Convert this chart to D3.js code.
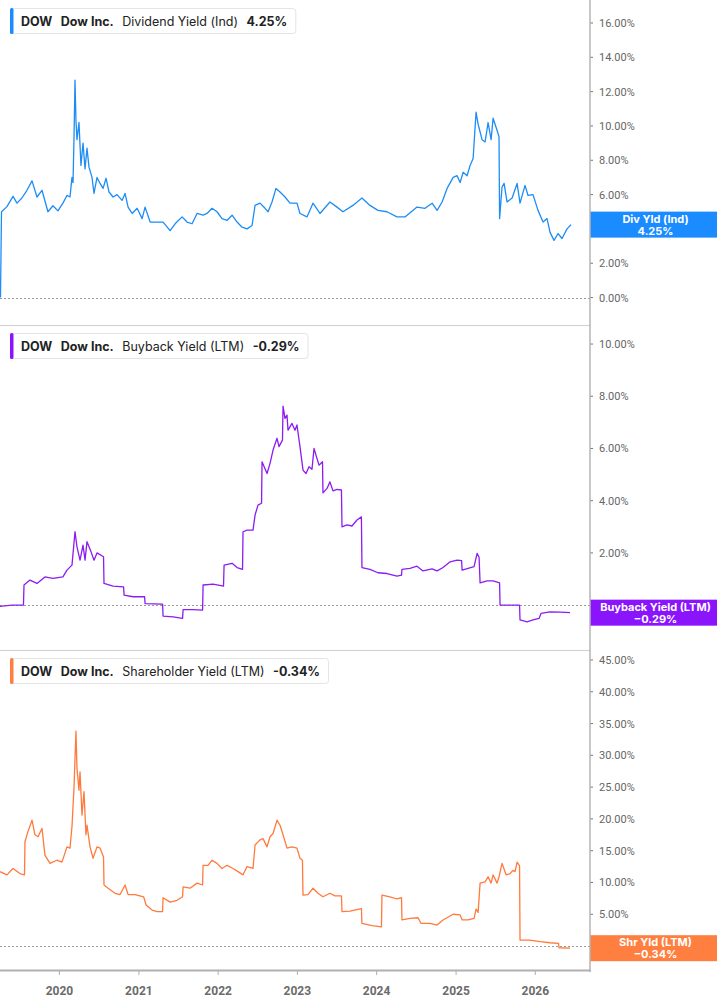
<!DOCTYPE html>
<html>
<head>
<meta charset="utf-8">
<title>DOW yields</title>
<script src="https://cdn.jsdelivr.net/npm/d3@7"></script>
<style>
  body { margin: 0; background: #fff; }
  svg { display: block; font-family: Inter, "Noto Sans", sans-serif; }
  .tick-label { font-family: Roboto, sans-serif; font-size: 11px; fill: #666; }
  .year-label { font-family: Roboto, sans-serif; font-size: 12px; font-weight: 700; fill: #6b6b6b; }
</style>
</head>
<body>
<svg id="chart" width="717" height="1005"></svg>
<script>
// ---- data (time in decimal years, values in %) ----
var divYears = [2019.256,2019.269,2019.338,2019.414,2019.464,2019.527,2019.590,2019.654,2019.717,2019.780,
  2019.855,2019.918,2019.981,2020.044,2020.095,2020.133,2020.158,2020.171,2020.183,2020.196,
  2020.208,2020.221,2020.246,2020.271,2020.297,2020.322,2020.347,2020.372,2020.410,2020.435,
  2020.473,2020.511,2020.549,2020.587,2020.624,2020.675,2020.725,2020.788,2020.826,2020.864,
  2020.915,2020.978,2021.041,2021.078,2021.142,2021.230,2021.305,2021.394,2021.457,2021.545,
  2021.608,2021.671,2021.734,2021.810,2021.860,2021.923,2021.986,2022.049,2022.113,2022.176,
  2022.239,2022.302,2022.365,2022.428,2022.466,2022.529,2022.592,2022.630,2022.680,2022.730,
  2022.781,2022.844,2022.907,2022.995,2023.033,2023.121,2023.197,2023.285,2023.411,2023.500,
  2023.575,2023.701,2023.815,2023.916,2024.017,2024.130,2024.256,2024.357,2024.508,2024.609,
  2024.698,2024.761,2024.824,2024.887,2024.963,2025.013,2025.051,2025.089,2025.139,2025.177,
  2025.215,2025.252,2025.278,2025.328,2025.366,2025.404,2025.442,2025.467,2025.517,2025.542,
  2025.549,2025.580,2025.606,2025.643,2025.707,2025.770,2025.807,2025.870,2025.908,2025.971,
  2026.034,2026.097,2026.148,2026.186,2026.236,2026.287,2026.337,2026.400,2026.451];
var divValues = [0,5.0,5.3,5.9,5.5,5.8,6.25,6.8,5.86,6.25,
  5.0,5.35,5.05,5.5,5.95,5.86,7.0,6.7,9.2,12.67,
  10.3,9.2,10.2,7.7,9.0,7.5,8.7,7.6,7.0,6.07,
  7.0,6.65,6.36,6.95,6.15,5.86,6.0,5.66,6.07,5.27,
  4.9,5.2,4.6,5.27,4.4,4.4,4.4,3.9,4.3,4.7,
  4.4,4.3,4.9,4.8,4.9,5.2,5.0,4.6,4.5,4.8,
  4.4,4.1,4.0,4.2,5.37,5.5,5.2,5.0,5.57,6.36,
  6.15,5.86,5.5,5.5,4.9,4.7,5.5,4.9,5.57,5.27,
  5.0,5.37,5.8,5.37,5.08,5.0,4.7,4.7,5.27,5.2,
  5.5,5.08,5.57,6.36,7.0,7.1,6.7,7.3,7.1,7.7,
  8.1,10.8,10.1,9.2,9.07,10.2,9.2,10.45,9.75,9.36,
  4.6,6.44,6.65,5.57,5.8,6.65,5.5,6.54,5.95,6.0,
  5.08,4.4,4.6,3.8,3.33,3.73,3.44,4.0,4.25];

var bbYears = [2019.250,2019.401,2019.546,2019.553,2019.628,2019.717,2019.817,2019.918,2020.044,2020.095,
  2020.158,2020.196,2020.221,2020.259,2020.297,2020.322,2020.347,2020.398,2020.435,2020.473,
  2020.555,2020.561,2020.675,2020.807,2020.814,2020.927,2021.072,2021.078,2021.299,2021.305,
  2021.432,2021.551,2021.558,2021.684,2021.804,2021.810,2021.936,2022.068,2022.075,2022.176,
  2022.239,2022.308,2022.314,2022.365,2022.440,2022.466,2022.503,2022.548,2022.554,2022.617,
  2022.655,2022.693,2022.743,2022.768,2022.812,2022.819,2022.844,2022.869,2022.882,2022.932,
  2022.970,2022.995,2023.033,2023.071,2023.109,2023.147,2023.184,2023.210,2023.247,2023.273,
  2023.317,2023.323,2023.374,2023.411,2023.449,2023.500,2023.556,2023.563,2023.626,2023.689,
  2023.752,2023.808,2023.815,2023.916,2024.017,2024.130,2024.256,2024.313,2024.319,2024.420,
  2024.508,2024.584,2024.698,2024.761,2024.836,2024.925,2025.013,2025.070,2025.076,2025.152,
  2025.227,2025.265,2025.290,2025.303,2025.391,2025.467,2025.549,2025.555,2025.681,2025.801,
  2025.807,2025.896,2025.971,2026.047,2026.072,2026.186,2026.312,2026.438];
var bbValues = [-0.05,0.0,0.0,0.77,0.96,0.83,1.08,1.02,1.08,1.34,
  1.53,2.81,2.23,1.72,2.30,1.72,2.43,2.04,1.72,2.0,
  1.85,0.83,0.73,0.70,0.38,0.32,0.32,0.06,0.04,-0.42,
  -0.45,-0.51,-0.17,-0.17,-0.19,0.77,0.80,0.73,1.53,1.60,
  1.44,1.37,2.81,2.87,2.87,3.45,3.83,3.90,5.49,5.04,
  5.43,5.94,6.39,6.07,6.32,7.62,7.15,7.28,6.70,6.96,
  6.70,6.90,6.07,5.17,5.04,5.30,5.20,6.00,5.62,5.36,
  5.49,4.30,4.47,4.72,4.38,4.43,4.41,3.00,3.07,3.03,
  3.26,3.38,1.44,1.37,1.24,1.21,1.11,1.15,1.37,1.41,
  1.49,1.31,1.39,1.31,1.44,1.66,1.72,1.70,1.34,1.41,
  1.47,1.98,1.83,0.85,0.93,0.93,0.85,0.0,0.0,0.0,
  -0.57,-0.64,-0.57,-0.51,-0.32,-0.26,-0.27,-0.29];

var shyYears = [2019.250,2019.338,2019.414,2019.502,2019.559,2019.565,2019.603,2019.654,2019.691,2019.729,
  2019.780,2019.817,2019.881,2019.969,2020.032,2020.095,2020.133,2020.158,2020.183,2020.208,
  2020.221,2020.246,2020.259,2020.284,2020.309,2020.334,2020.347,2020.385,2020.423,2020.473,
  2020.511,2020.555,2020.561,2020.612,2020.700,2020.763,2020.826,2020.864,2020.952,2021.060,
  2021.091,2021.167,2021.230,2021.299,2021.305,2021.394,2021.482,2021.551,2021.558,2021.646,
  2021.734,2021.804,2021.810,2021.873,2021.923,2021.986,2022.049,2022.113,2022.188,2022.251,
  2022.314,2022.365,2022.440,2022.466,2022.529,2022.567,2022.617,2022.655,2022.693,2022.743,
  2022.781,2022.819,2022.869,2022.932,2022.995,2023.033,2023.064,2023.071,2023.134,2023.197,
  2023.260,2023.323,2023.411,2023.474,2023.556,2023.563,2023.664,2023.808,2023.815,2023.941,
  2024.061,2024.067,2024.168,2024.256,2024.313,2024.319,2024.420,2024.521,2024.559,2024.672,
  2024.761,2024.836,2024.963,2025.051,2025.076,2025.152,2025.227,2025.252,2025.278,2025.303,
  2025.366,2025.404,2025.442,2025.467,2025.517,2025.542,2025.580,2025.631,2025.681,2025.719,
  2025.744,2025.770,2025.801,2025.807,2025.933,2026.060,2026.186,2026.293,2026.299,2026.438];
var shyValues = [11.7,11.2,12.2,11.4,11.2,16.4,18.0,19.8,17.5,17.2,
  18.5,14.3,13.0,13.5,13.2,15.6,15.4,18.8,24.8,33.8,
  27.9,24.5,27.4,20.6,24.3,17.5,19.0,15.6,13.8,15.6,
  15.4,14.0,9.6,9.1,8.3,8.1,9.6,8.1,8.1,7.75,
  6.45,5.66,5.4,5.4,7.6,6.9,7.2,7.75,9.3,9.1,
  9.9,9.6,12.7,12.7,13.5,13.0,12.2,12.7,12.2,11.7,
  11.2,12.5,12.2,15.9,16.7,16.9,15.6,17.2,17.7,19.8,
  19.0,17.5,15.4,15.6,15.4,13.8,13.5,8.0,8.1,9.1,
  8.3,7.75,8.3,7.9,7.9,5.4,5.5,5.9,3.55,3.2,
  3.0,8.0,7.75,7.4,7.6,4.1,4.35,4.45,3.55,3.55,
  3.3,4.1,5.0,4.9,4.1,4.1,4.35,5.8,5.3,9.9,
  10.1,10.9,9.9,11.2,9.9,10.9,13.0,11.2,11.4,11.9,
  11.7,13.2,12.6,0.94,0.94,0.68,0.52,0.42,-0.27,-0.34];

var yearTicks = [2020, 2021, 2022, 2023, 2024, 2025, 2026];
var divTicks = [0, 2, 4, 6, 8, 10, 12, 14, 16];
var bbTicks = [0, 2, 4, 6, 8, 10];
var shyTicks = [0, 5, 10, 15, 20, 25, 30, 35, 40, 45];

var legendTexts = [
  ["DOW", "Dow Inc.", "Dividend Yield (Ind)", "4.25%"],
  ["DOW", "Dow Inc.", "Buyback Yield (LTM)", "-0.29%"],
  ["DOW", "Dow Inc.", "Shareholder Yield (LTM)", "-0.34%"]
];
var tagNames = ["Div Yld (Ind)", "Buyback Yield (LTM)", "Shr Yld (LTM)"];
var tagValues = [4.25, -0.29, -0.34];

// ---- layout ----
var W = 717, plotW = 590;
var svg = d3.select("#chart");

function toDate(t) {
  var y = Math.floor(t);
  var a = Date.UTC(y, 0, 1), b = Date.UTC(y + 1, 0, 1);
  return new Date(a + (t - y) * (b - a));
}

var x = d3.scaleUtc().domain([toDate(2019.25), toDate(2026.69)]).range([0, plotW]);

var panels = [
  { top: 0,   bottom: 325, dom: [-1.6, 17.34],  years: divYears, values: divValues, ticks: divTicks,
    color: "#1d8df5", tagColor: "#1a8cff", legendY: 8 },
  { top: 325, bottom: 650, dom: [-1.72, 10.73], years: bbYears, values: bbValues, ticks: bbTicks,
    color: "#8b1cf2", tagColor: "#8a14fb", legendY: 333 },
  { top: 650, bottom: 970, dom: [-3.77, 46.57], years: shyYears, values: shyValues, ticks: shyTicks,
    color: "#ff7a3c", tagColor: "#ff7f40", legendY: 658 }
];

panels.forEach(function(p, i) {
  var y = d3.scaleLinear().domain(p.dom).range([p.bottom, p.top]);
  var g = svg.append("g");
  var cy = y(tagValues[i]);

  // separator under the panel
  if (i < 2) {
    g.append("line").attr("x1", 0).attr("x2", plotW)
      .attr("y1", p.bottom + 0.5).attr("y2", p.bottom + 0.5)
      .attr("stroke", "#cfcfcf").attr("stroke-width", 1);
  }

  // zero line, dotted
  g.append("line").attr("x1", 0).attr("x2", plotW)
    .attr("y1", Math.round(y(0)) + 0.5).attr("y2", Math.round(y(0)) + 0.5)
    .attr("stroke", "#9a9a9a").attr("stroke-width", 1).attr("stroke-dasharray", "2,2");

  // right axis ticks + labels (labels hidden under the value tag are skipped)
  var ax = g.append("g");
  ax.selectAll("line").data(p.ticks).enter().append("line")
    .attr("x1", plotW).attr("x2", plotW + 3)
    .attr("y1", function(d) { return y(d); }).attr("y2", function(d) { return y(d); })
    .attr("stroke", "#777").attr("stroke-width", 1);
  ax.selectAll("text").data(p.ticks.filter(function(d) { return Math.abs(y(d) - cy) > 16; }))
    .enter().append("text")
    .attr("class", "tick-label")
    .attr("x", plotW + 9).attr("y", function(d) { return y(d) + 4; })
    .text(function(d) { return d3.format(".2f")(d) + "%"; });

  // the series line
  var pts = p.years.map(function(t, k) { return { t: toDate(t), v: p.values[k] }; });
  var line = d3.line().x(function(d) { return x(d.t); }).y(function(d) { return y(d.v); });
  g.append("path").datum(pts).attr("d", line)
    .attr("fill", "none").attr("stroke", p.color).attr("stroke-width", 1.3)
    .attr("stroke-linejoin", "round");

  // value tag on right axis
  var tag = g.append("g");
  tag.append("rect").attr("x", plotW).attr("y", cy - 13).attr("width", W - plotW).attr("height", 26)
    .attr("fill", p.tagColor);
  tag.append("text").attr("x", (plotW + W) / 2 + 2).attr("y", cy - 2)
    .attr("text-anchor", "middle").attr("fill", "#fff")
    .style("font-size", "11px").style("font-weight", 700).text(tagNames[i]);
  tag.append("text").attr("x", (plotW + W) / 2 + 2).attr("y", cy + 10)
    .attr("text-anchor", "middle").attr("fill", "#fff")
    .style("font-size", "11px").style("font-weight", 700).text(d3.format(".2f")(tagValues[i]) + "%");

  // legend box
  var lg = g.append("g");
  var box = lg.append("rect").attr("x", 10.5).attr("y", p.legendY + 0.5).attr("height", 25)
    .attr("rx", 3).attr("fill", "#fff").attr("stroke", "#e4e4e4");
  lg.append("rect").attr("x", 10).attr("y", p.legendY).attr("width", 3.5).attr("height", 26)
    .attr("rx", 1.5).attr("fill", p.tagColor);
  var tx = 21;
  legendTexts[i].forEach(function(s, k) {
    var t = lg.append("text").attr("x", tx).attr("y", p.legendY + 17.5)
      .attr("fill", "#222").style("font-size", "12.5px")
      .style("font-weight", k === 2 ? 400 : 700).text(s);
    tx += t.node().getComputedTextLength() + 8.5;
  });
  box.attr("width", tx - 10.5);
});

// right vertical axis line
svg.append("line").attr("x1", plotW).attr("x2", plotW).attr("y1", 0).attr("y2", 972)
  .attr("stroke", "#b5b5b5").attr("stroke-width", 1.5);

// bottom time axis
svg.append("line").attr("x1", 0).attr("x2", plotW + 0.75).attr("y1", 970.5).attr("y2", 970.5)
  .attr("stroke", "#b0b0b0").attr("stroke-width", 2);
var xa = svg.append("g");
xa.selectAll("line").data(yearTicks).enter().append("line")
  .attr("x1", function(d) { return x(toDate(d)); }).attr("x2", function(d) { return x(toDate(d)); })
  .attr("y1", 971).attr("y2", 975).attr("stroke", "#b0b0b0").attr("stroke-width", 1);
xa.selectAll("text").data(yearTicks).enter().append("text")
  .attr("class", "year-label").attr("text-anchor", "middle")
  .attr("x", function(d) { return x(toDate(d)); }).attr("y", 995)
  .text(function(d) { return d; });
</script>
</body>
</html>
